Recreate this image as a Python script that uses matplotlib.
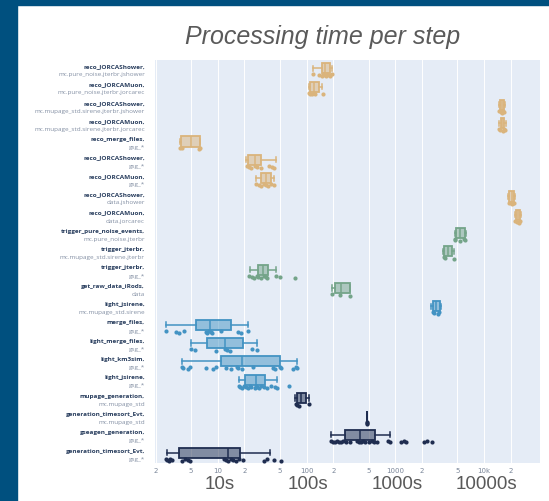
import numpy as np
import matplotlib.pyplot as plt
from matplotlib.patches import Rectangle
from matplotlib.ticker import NullLocator
from matplotlib.transforms import blended_transform_factory

# one row per (step, dataset), top to bottom
steps = [
    "reco_JORCAShower", "reco_JORCAMuon", "reco_JORCAShower", "reco_JORCAMuon",
    "reco_merge_files", "reco_JORCAShower", "reco_JORCAMuon", "reco_JORCAShower",
    "reco_JORCAMuon", "trigger_pure_noise_events", "trigger_jterbr", "trigger_jterbr",
    "get_raw_data_iRods", "light_jsirene", "merge_files", "light_merge_files",
    "light_km3sim", "light_jsirene", "mupage_generation", "generation_timesort_Evt",
    "gseagen_generation", "generation_timesort_Evt",
]
datasets = [
    "mc.pure_noise.jterbr.jshower", "mc.pure_noise.jterbr.jorcarec",
    "mc.mupage_std.sirene.jterbr.jshower", "mc.mupage_std.sirene.jterbr.jorcarec",
    "gsg_*", "gsg_*", "gsg_*", "data.jshower", "data.jorcarec",
    "mc.pure_noise.jterbr", "mc.mupage_std.sirene.jterbr", "gsg_*", "data",
    "mc.mupage_std.sirene", "gsg_*", "gsg_*", "gsg_*", "gsg_*",
    "mc.mupage_std", "mc.mupage_std", "gsg_*", "gsg_*",
]
groups = ["reco"] * 9 + ["trigger"] * 4 + ["light"] * 5 + ["generation"] * 4
group_colors = {"reco": "#dab47c", "trigger": "#74a489",
                "light": "#4393c3", "generation": "#1f2d50"}

# box statistics in seconds
whislo = [118, 106, 14600, 14800, 3.8, 21, 26.7, 18500, 22500, 4700, 3450, 22.9,
          194, 2500, 2.6, 5.05, 3.95, 17.3, 75, 478, 191, 2.67]
q1 = [150, 109, 15000, 15400, 3.85, 22, 30.4, 19200, 23000, 4850, 3490, 28.6,
      212, 2650, 5.77, 7.5, 11, 20.3, 77.3, 480, 274, 3.67]
med = [162, 123, 15900, 16000, 5.05, 26, 34.6, 20600, 24000, 5370, 3910, 32.6,
       245, 2890, 8.13, 12.1, 18.9, 26.9, 87.2, 481, 405, 13.2]
q3 = [185, 137, 16900, 16800, 6.3, 31, 40, 21700, 25500, 6120, 4330, 37.1,
      306, 3150, 14.3, 19.1, 49.8, 33.7, 97.5, 482, 585, 17.8]
whishi = [195, 150, 17300, 17600, 6.4, 44.9, 43, 22200, 26000, 6200, 4600, 44.9,
          312, 3300, 22.1, 27.9, 78.7, 46.8, 106, 484, 863, 38.4]

# individual runs (seconds)
points = [
    [119, 140, 150, 155, 160, 165, 170, 178, 185, 192],
    [106, 110, 115, 120, 125, 152],
    [14800, 15300, 15800, 16200, 16600],
    [14600, 15200, 16100, 16900, 17300],
    [3.8, 4.0, 6.1, 6.4],
    [21.5, 22.5, 24, 26, 28, 31, 38, 41, 43],
    [27, 29, 31, 33, 35, 37, 40, 43],
    [19000, 19800, 20600, 21200, 21800],
    [22500, 23500, 24500, 25500],
    [4700, 4750, 5300, 6000, 6100],
    [3500, 3600, 4550],
    [22.5, 24.5, 25.6, 27.4, 28.4, 30.4, 33.1, 34.6, 36.1, 44.9, 50.1, 74],
    [194, 237, 312],
    [2650, 2700, 2990, 3100],
    [2.61, 3.37, 3.67, 4.18, 7.33, 7.66, 7.98, 8.34, 8.71, 11.0, 16.9, 18.1, 22.1],
    [5.05, 5.52, 9.5, 12.0, 12.6, 13.6, 24.1, 27.9],
    [3.95, 4.08, 4.69, 4.85, 7.47, 8.95, 9.67, 12.3, 14.0, 16.3, 16.9, 19.0,
     24.9, 41.8, 44.0, 50.1, 52.0, 71.0, 76.6, 78.7],
    [17.3, 18, 19, 20, 21, 22, 23, 24, 26, 27, 28, 29, 31, 33, 36, 40, 44, 47, 64],
    [75.2, 78.7, 82, 106],
    [479, 481, 483],
    [191, 200, 210, 220, 230, 245, 260, 280, 312, 371, 390, 410, 430, 460, 500,
     540, 580, 622, 830, 879, 1160, 1250, 1330, 2120, 2300, 2585],
    [2.6, 2.7, 2.8, 2.9, 3.1, 4.0, 4.3, 4.6, 4.9, 11.8, 12.5, 13.2, 14.0, 15.0,
     16.0, 17.5, 19.5, 33, 36, 43, 51],
]

xticks = [2, 5, 10, 20, 50, 100, 200, 500, 1000, 2000, 5000, 10000, 20000]
xticklabels = ["2", "5", "10", "2", "5", "100", "2", "5", "1000", "2", "5", "10k", "2"]
big_ticks = [10, 100, 1000, 10000]
big_labels = ["10s", "100s", "1000s", "10000s"]

fig = plt.figure(figsize=(5.49, 5.02), dpi=100)
fig.patch.set_facecolor("white")
# dark blue slide frame
fig.patches.append(Rectangle((0, 0), 17 / 549, 1, transform=fig.transFigure,
                             color="#00507f", zorder=0))
fig.patches.append(Rectangle((0, 1 - 6 / 502), 1, 6 / 502, transform=fig.transFigure,
                             color="#00507f", zorder=0))

ax = fig.add_axes([155 / 549, 38 / 502, 385 / 549, 403 / 502])
ax.set_facecolor("#e5ecf6")
for s in ax.spines.values():
    s.set_visible(False)

n = len(steps)
for i in range(n):
    c = group_colors[groups[i]]
    st = dict(whislo=whislo[i], q1=q1[i], med=med[i], q3=q3[i], whishi=whishi[i])
    ax.bxp([st], positions=[i - 0.05], widths=0.55, orientation="horizontal",
           patch_artist=True, showfliers=False, capwidths=[0.28],
           boxprops=dict(facecolor=c + "80", edgecolor=c, linewidth=1.3),
           whiskerprops=dict(color=c, linewidth=1.1),
           capprops=dict(color=c, linewidth=1.1),
           medianprops=dict(color=c, linewidth=1.1))
    pts = points[i]
    jit = [((k % 3) - 1) * 0.05 for k in range(len(pts))]
    ax.scatter(pts, [i + 0.33 + j for j in jit], s=9, color=c, linewidths=0, zorder=3)

ax.set_xscale("log")
ax.set_xlim(1.97, 42500)
ax.set_ylim(n - 0.5, -0.5)
ax.set_yticks([])
ax.set_xticks(xticks)
ax.set_xticklabels(xticklabels)
ax.xaxis.set_minor_locator(NullLocator())
ax.tick_params(axis="x", length=0, labelsize=5, labelcolor="#7a8699", pad=3)
ax.grid(axis="x", color="white", linewidth=0.7)
ax.set_axisbelow(True)

tr = blended_transform_factory(ax.transAxes, ax.transData)
for i in range(n):
    ax.text(-0.026, i - 0.2, steps[i] + ",", transform=tr, ha="right", va="center",
            fontsize=4.6, fontweight="bold", color="#2a3f5f", family="Open Sans")
    ax.text(-0.026, i + 0.24, datasets[i], transform=tr, ha="right", va="center",
            fontsize=4.6, color="#8591a5", family="Open Sans")

trx = blended_transform_factory(ax.transData, fig.transFigure)
for v, lab in zip(big_ticks, big_labels):
    ax.text(v * 1.05, 17 / 502, lab, transform=trx, ha="center", va="center",
            fontsize=13.5, color="#595959", family="Liberation Sans")

fig.text(323 / 549, 1 - 37 / 502, "Processing time per step", ha="center", va="center",
         fontsize=18, style="italic", color="#5a5a5a", family="Liberation Sans")

fig.savefig("out.png", dpi=100)
